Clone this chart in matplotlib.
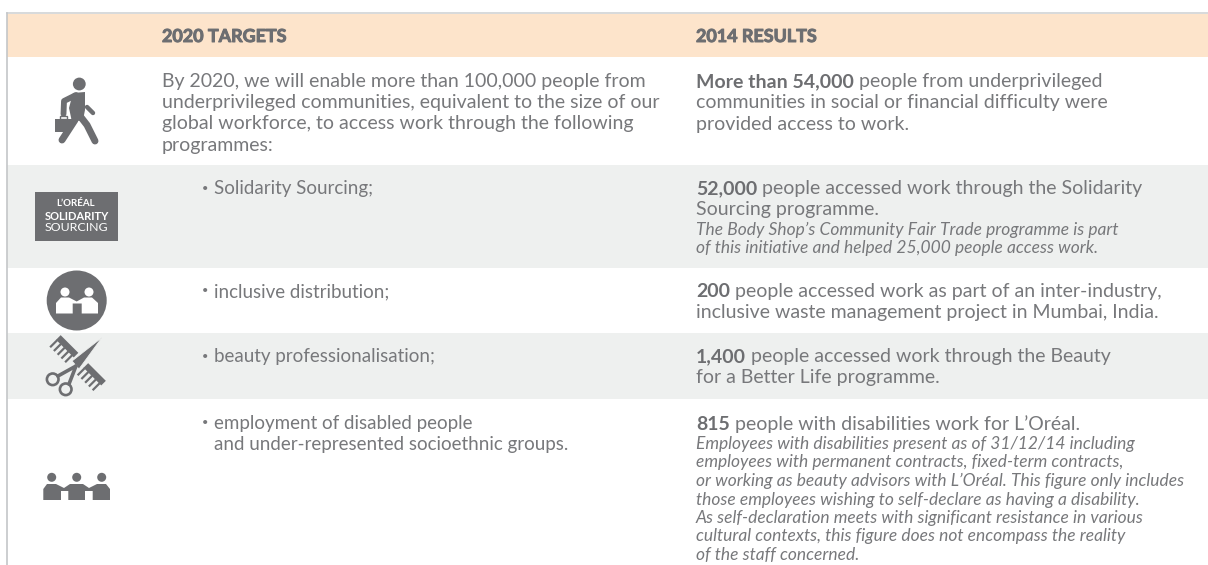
import matplotlib
matplotlib.use("Agg")
import matplotlib.pyplot as plt
import matplotlib.patheffects as pe
from matplotlib.patches import Rectangle, Circle, Polygon
from matplotlib.transforms import Affine2D

GREY = "#6d6e71"
TEXT = "#77787b"
PEACH = "#fde4cb"
BAND = "#eef0ef"
FONT = "Lato"

headers = ["2020 TARGETS", "2014 RESULTS"]

target_lines = [
    "By 2020, we will enable more than 100,000 people from",
    "underprivileged communities, equivalent to the size of our",
    "global workforce, to access work through the following",
    "programmes:",
]
# (y, has bullet, text)
bullets = [
    (187, True, "Solidarity Sourcing;"),
    (290, True, "inclusive distribution;"),
    (355, True, "beauty professionalisation;"),
    (422, True, "employment of disabled people"),
    (443, False, "and under-represented socioethnic groups."),
]

# (y, bold lead, regular rest)
result_lines = [
    (80, "More than 54,000", " people from underprivileged"),
    (101, "", "communities in social or financial difficulty were"),
    (123, "", "provided access to work."),
    (187, "52,000", " people accessed work through the Solidarity"),
    (208, "", "Sourcing programme."),
    (290, "200", " people accessed work as part of an inter-industry,"),
    (311, "", "inclusive waste management project in Mumbai, India."),
    (355, "1,400", " people accessed work through the Beauty"),
    (376, "", "for a Better Life programme."),
    (423, "815", " people with disabilities work for L’Oréal."),
]
note_lines = [
    (228, "The Body Shop’s Community Fair Trade programme is part"),
    (247, "of this initiative and helped 25,000 people access work."),
    (442, "Employees with disabilities present as of 31/12/14 including"),
    (460, "employees with permanent contracts, fixed-term contracts,"),
    (479, "or working as beauty advisors with L’Oréal. This figure only includes"),
    (498, "those employees wishing to self-declare as having a disability."),
    (516, "As self-declaration meets with significant resistance in various"),
    (535, "cultural contexts, this figure does not encompass the reality"),
    (553, "of the staff concerned."),
]

fig = plt.figure(figsize=(12.08, 5.65), dpi=100)
ax = fig.add_axes([0, 0, 1, 1])
ax.set_xlim(0, 1208)
ax.set_ylim(565, 0)
ax.axis("off")

# --- bands and frame ---
ax.add_patch(Rectangle((7, 14), 1201, 43, color=PEACH, lw=0))
ax.add_patch(Rectangle((7, 165), 1201, 103, color=BAND, lw=0))
ax.add_patch(Rectangle((7, 333), 1201, 66, color=BAND, lw=0))
ax.plot([6.5, 1208], [13, 13], color="#d1d3d4", lw=1.2)
ax.plot([6.5, 6.5], [13, 565], color="#c4c6c8", lw=1.2)


def put(x, y, s, size=14, weight="normal", style="normal", color=TEXT):
    return ax.text(x, y, s, fontsize=size, family=FONT, fontweight=weight,
                   fontstyle=style, color=color, ha="left", va="center_baseline")


def thick(xs, ys, width, color=GREY):
    ax.plot(xs, ys, color=color, lw=width, solid_capstyle="round", solid_joinstyle="round")


# --- text ---
for x, s in zip([162, 696], headers):
    t = put(x, 35, s, size=12.9, weight="bold", color=GREY)
    t.set_path_effects([pe.withStroke(linewidth=0.7, foreground=GREY)])

for y, s in zip([80, 101, 122, 144], target_lines):
    put(162, y, s)
for y, dot, s in bullets:
    if dot:
        put(202, y, "•", size=8)
    put(213.5, y, s, size=13.5)

rend = fig.canvas.get_renderer()
for y, lead, rest in result_lines:
    x = 696
    if lead:
        t = put(x, y, lead, weight="bold", color=GREY)
        x = ax.transData.inverted().transform(t.get_window_extent(rend).get_points())[1, 0]
    put(x, y, rest)
for y, s in note_lines:
    put(696, y, s, size=12.55, style="italic")

# --- walking man icon ---
ax.add_patch(Circle((79.3, 84), 6.4, color=GREY, lw=0))
ax.add_patch(Polygon([(73, 93), (85, 92), (85, 110), (83, 120), (72, 122), (69, 108)], color=GREY, lw=0))
thick([76, 64, 63.5], [95, 101, 114], 4.2)
thick([75, 62], [120, 140], 5)
thick([80, 87, 95], [116, 125, 141], 5)
thick([87, 93], [107, 113], 3.2)
ax.add_patch(Polygon([(55, 119), (77, 119), (69, 132), (55, 132)], color=GREY, lw=0))
ax.add_patch(Rectangle((60, 115.5), 7, 3.5, fill=False, ec=GREY, lw=1))

# --- solidarity sourcing badge ---
ax.add_patch(Rectangle((35, 192), 83, 49, color=GREY, lw=0))
ax.text(76, 204, "L’ORÉAL", fontsize=7, family=FONT, fontweight="bold", color="white", ha="center", va="center")
ax.text(76.5, 216, "SOLIDARITY", fontsize=8, family=FONT, fontweight="bold", color="white", ha="center", va="center")
ax.text(76.5, 227.5, "SOURCING", fontsize=8.9, family=FONT, color="white", ha="center", va="center")

# --- inclusive distribution icon ---
ax.add_patch(Circle((76.7, 300.5), 30, color=GREY, lw=0))
for cx in (65, 89):
    ax.add_patch(Circle((cx, 292), 4.5, color="white", lw=0))
ax.add_patch(Polygon([(56, 313.5), (56, 303), (61, 297.5), (69, 297.5), (76.7, 301.5), (84, 297.5),
                      (92, 297.5), (98, 303), (98, 313.5), (81.7, 313.5), (81.7, 303.5),
                      (72.7, 303.5), (72.7, 313.5)], color="white", lw=0))

# --- comb and scissors icon ---
for cx, cy in ((69.5, 344), (97, 372)):
    tr = Affine2D().rotate_deg_around(cx, cy, 45) + ax.transData
    ax.add_patch(Rectangle((cx - 12.5, cy), 25, 6.5, color=GREY, lw=0, transform=tr))
    for dx in (-12.5, -7.2, -1.9, 3.4, 8.7):
        ax.add_patch(Rectangle((cx + dx, cy + 6), 2.2, 10, color=GREY, lw=0, transform=tr))
ax.add_patch(Polygon([(102, 337.5), (72, 361), (79, 369)], color=GREY, ec=BAND, lw=0.6))
thick([76, 58], [366, 376], 2.6)
thick([76, 69], [366, 384], 2.6)
ax.add_patch(Circle((76, 366), 1.5, color=BAND, lw=0))
ax.add_patch(Circle((52.7, 379.3), 5.8, fill=False, ec=GREY, lw=1.9))
ax.add_patch(Circle((65.7, 389.3), 5.8, fill=False, ec=GREY, lw=1.9))

# --- group of three people icon ---
for cx in (51.7, 76.7, 101.7):
    ax.add_patch(Circle((cx, 477.3), 4.5, color=GREY, lw=0))
ax.add_patch(Polygon([(43.3, 500), (43.3, 489), (47, 484), (56, 484), (64, 488), (70, 484), (83, 484),
                      (89, 488), (97, 484), (106, 484), (110, 489), (110, 500), (92.7, 500),
                      (92.7, 491), (85, 491), (85, 500), (68.3, 500), (68.3, 491), (61, 491), (61, 500)],
                     color=GREY, lw=0))

fig.savefig("out.png", dpi=100)
